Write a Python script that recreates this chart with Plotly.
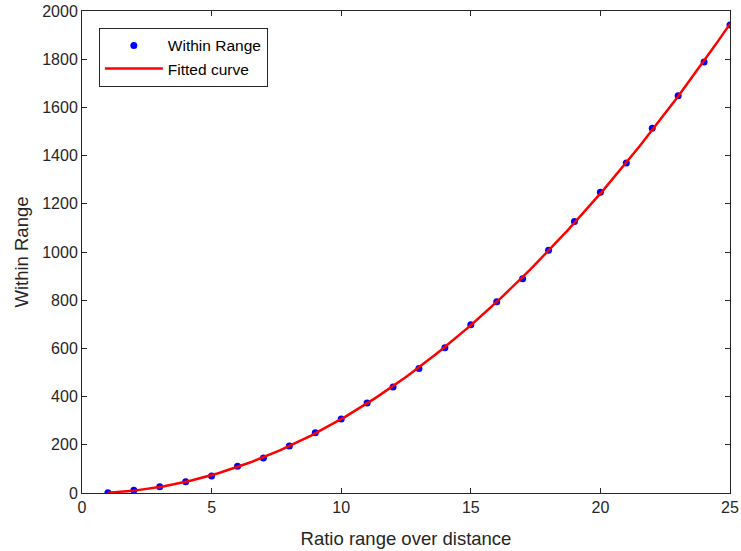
import numpy as np
import plotly.graph_objects as go

ratio = list(range(1, 26))
within_range = [1, 11, 26, 47, 71, 111, 145, 195, 250, 307, 373, 440, 517, 603,
                698, 794, 889, 1007, 1127, 1248, 1369, 1514, 1648, 1788, 1942]
x_ticks = [0, 5, 10, 15, 20, 25]
y_ticks = list(range(0, 2001, 200))

coef = np.polyfit(ratio, within_range, 2)
xf = np.linspace(min(ratio), max(ratio), 200)
yf = np.polyval(coef, xf)

FONT = "Liberation Sans, Arial"
fig = go.Figure()
fig.add_trace(go.Scatter(x=ratio, y=within_range, mode="markers", name="Within Range",
                         marker=dict(color="#0000ff", size=7)))
fig.add_trace(go.Scatter(x=xf, y=yf, mode="lines", name="Fitted curve",
                         line=dict(color="#ff0000", width=2.5)))

axis_common = dict(showline=True, linecolor="#262626", linewidth=1, mirror="ticks",
                   ticks="inside", ticklen=5, tickcolor="#262626", showgrid=False,
                   zeroline=False, automargin=False, ticklabeloverflow="allow",
                   tickfont=dict(family=FONT, size=16, color="#262626"))
fig.update_xaxes(range=[0, 25], tickvals=x_ticks, title=dict(text="Ratio range over distance",
                 font=dict(family=FONT, size=18.5, color="#262626"), standoff=16),
                 **axis_common)
fig.update_yaxes(range=[0, 2000], tickvals=y_ticks, title=dict(text="Within Range",
                 font=dict(family=FONT, size=18.5, color="#262626"), standoff=8),
                 **axis_common)
fig.update_layout(
    width=741, height=551,
    margin=dict(l=82, r=11, t=11, b=58),
    plot_bgcolor="white", paper_bgcolor="white",
    legend=dict(x=0.026, y=0.965, xanchor="left", yanchor="top", itemwidth=58,
                bordercolor="#262626", borderwidth=1, bgcolor="white",
                font=dict(family=FONT, size=15.5, color="#000000")),
)
fig.write_html("out.html", config={"displayModeBar": False},
               post_script="document.body.style.margin='0';document.body.style.overflow='hidden';")
